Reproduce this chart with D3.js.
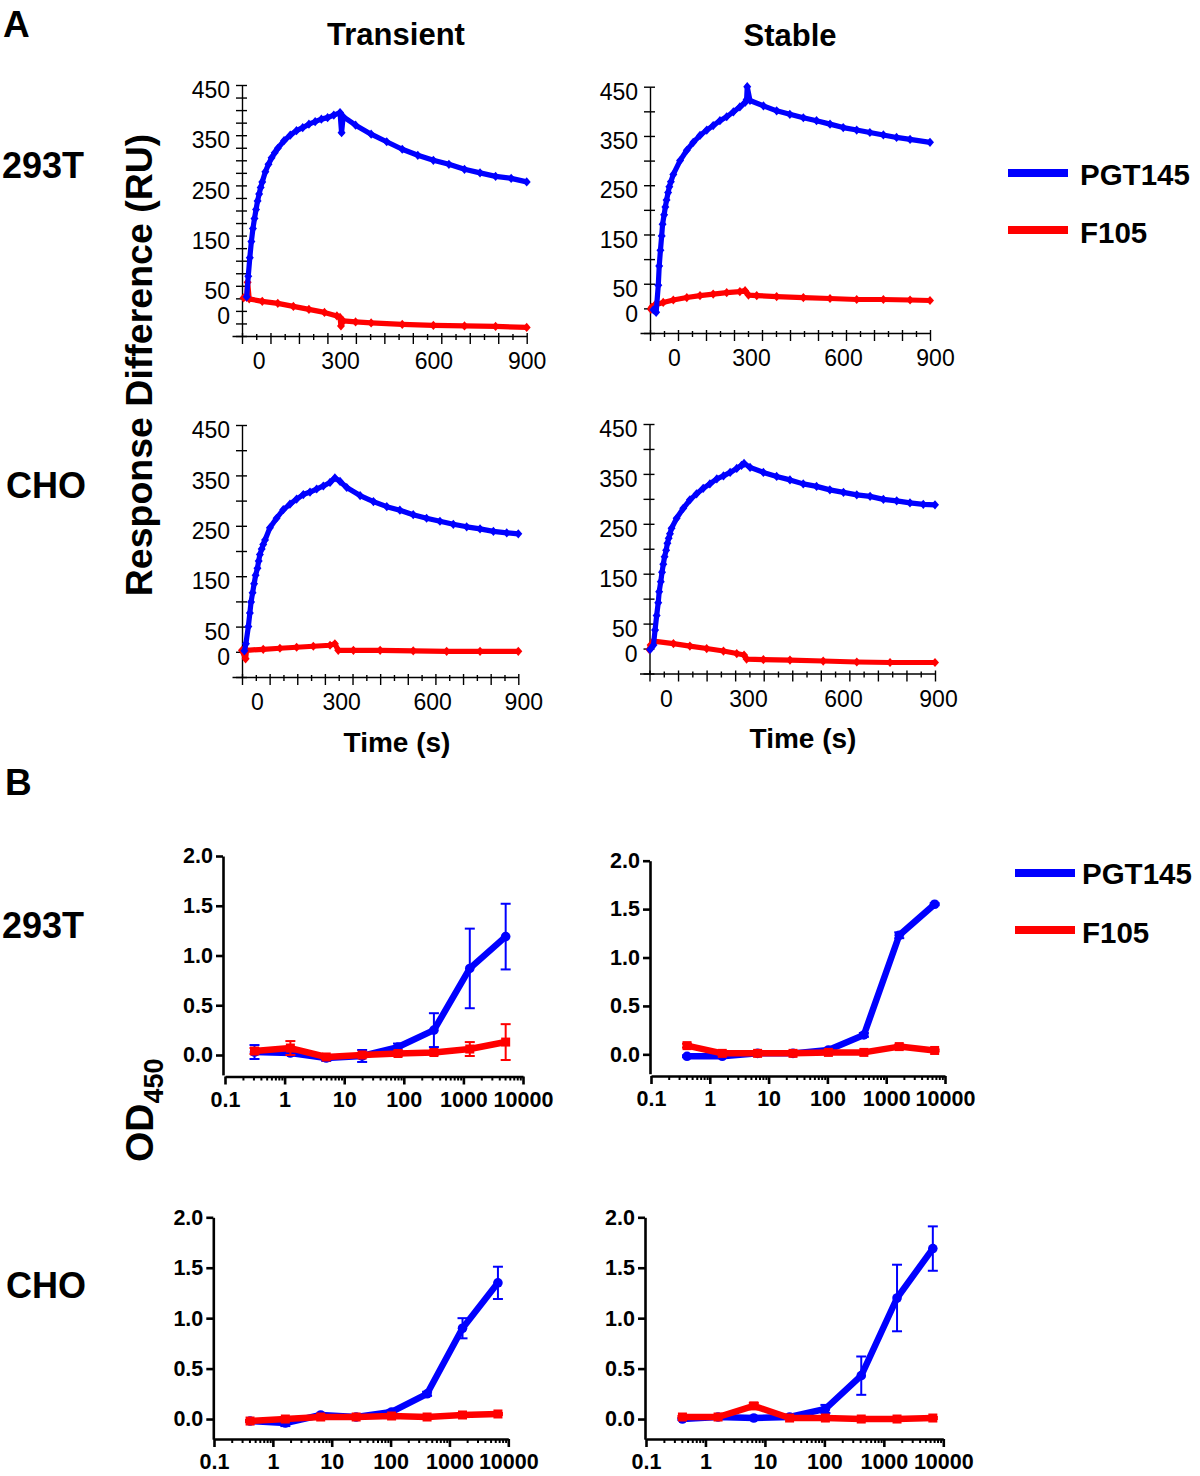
<!DOCTYPE html>
<html><head><meta charset="utf-8">
<script src="https://cdn.jsdelivr.net/npm/d3@7"></script>
<style>
body{margin:0;background:#fff}
svg{display:block}
</style>
</head><body>
<svg id="fig" width="1200" height="1476"></svg>
<script>
// ---------- Panel A: SPR sensorgrams (time in s, response in RU) ----------
const a1BlueT = [0,5,10,15,20,25,30,35,40,45,50,60,70,80,90,100,120,140,160,180,200,220,240,260,280,300,305,310,350,400,450,500,550,600,650,700,750,800,850,900];
const a1BlueV = [28,69,106,138,164,184,202,219,233,246,257,277,292,305,315,324,339,350,359,365,372,377,382,385,390,395,355,387,370,352,337,322,310,300,292,282,275,268,264,257];
const a1RedT = [-10,0,3,8,50,100,150,200,250,290,300,303,310,350,400,500,600,700,800,900];
const a1RedV = [26,27,57,24,19,15,9,3,-3,-10,-13,-30,-20,-22,-24,-27,-29,-30,-31,-33];

const a2BlueT = [-2,7,14,17,21,25,28,33,37,41,46,50,55,63,85,107,128,150,172,193,215,237,259,280,297,302,304,313,357,400,443,487,530,574,617,661,704,748,791,835,900];
const a2BlueV = [-3,-8,47,86,118,147,171,190,206,220,235,247,257,272,300,321,337,351,362,371,381,389,399,409,418,424,450,422,411,401,394,387,381,374,367,362,357,352,347,343,337];
const a2RedT = [-10,-8,3,30,63,107,150,193,237,280,297,308,335,400,487,574,661,748,835,900];
const a2RedV = [-2,2,7,12,17,22,26,29,32,34,36,27,26,24,22,20,18,18,17,16];

const a3BlueT = [-2,3,11,16,20,25,30,35,41,45,49,55,60,66,82,104,126,148,170,192,214,236,258,280,296,313,335,379,423,467,510,554,598,642,686,730,774,818,862,900];
const a3BlueV = [2,16,50,77,99,117,135,152,166,180,193,204,213,222,246,265,282,293,303,312,317,323,329,336,345,338,326,310,298,288,281,272,265,259,253,248,244,239,236,234];
const a3RedT = [-10,2,5,60,115,170,225,280,296,307,357,445,554,664,774,900];
const a3RedV = [3,-14,3,5,7,9,11,13,16,3,3,3,2,1,1,1];

const a4BlueT = [0,11,16,21,26,29,34,38,42,46,51,55,59,63,68,84,105,126,147,168,189,211,232,253,274,289,297,316,358,400,442,484,526,568,611,653,695,737,779,821,863,900];
const a4BlueV = [-2,7,37,66,92,114,134,153,169,184,197,211,221,230,241,261,281,298,310,321,330,340,346,353,361,367,371,363,353,345,338,330,325,318,313,308,305,299,296,292,289,288];
const a4RedT = [-2,2,11,74,126,179,232,274,297,305,358,442,547,653,758,900];
const a4RedV = [-2,7,15,10,5,0,-5,-10,-13,-21,-22,-23,-25,-27,-28,-28];

const sprYTicks = [450,350,250,150,50,0];
const sprXTicks = [0,300,600,900];

// ---------- Panel B: ELISA (concentration, OD450) ----------
const concB1 = [0.3125,1.25,5,20,80,320,1280,5120];
const concB = [0.41,1.63,6.5,26,104,417,1667,6667];

const b1Blue = [0.03,0.02,-0.03,-0.01,0.08,0.25,0.87,1.19];
const b1BlueErr = [0.07,0.02,0.03,0.06,0.035,0.17,0.40,0.33];
const b1Red = [0.04,0.07,-0.02,0.00,0.015,0.025,0.06,0.13];
const b1RedErr = [0.03,0.07,0.02,0.02,0.02,0.02,0.07,0.18];

const b2Blue = [-0.02,-0.02,0.01,0.01,0.045,0.20,1.23,1.55];
const b2BlueErr = [0.01,0.01,0.01,0.01,0.01,0.02,0.03,0.01];
const b2Red = [0.09,0.01,0.01,0.01,0.02,0.02,0.08,0.04];
const b2RedErr = [0.02,0.01,0.01,0.01,0.01,0.01,0.02,0.01];

const b3Blue = [-0.02,-0.04,0.04,0.02,0.07,0.25,0.90,1.35];
const b3BlueErr = [0.01,0.03,0.01,0.01,0.02,0.02,0.10,0.16];
const b3Red = [-0.02,0.00,0.02,0.02,0.03,0.02,0.04,0.05];
const b3RedErr = [0.01,0.01,0.01,0.01,0.01,0.01,0.01,0.01];

const b4Blue = [0.00,0.02,0.01,0.02,0.10,0.43,1.20,1.69];
const b4BlueErr = [0.01,0.01,0.01,0.01,0.04,0.19,0.33,0.22];
const b4Red = [0.02,0.02,0.13,0.01,0.01,0.00,0.00,0.01];
const b4RedErr = [0.01,0.01,0.03,0.01,0.01,0.01,0.01,0.01];

const odYTicks = [0,0.5,1,1.5,2];
const concTicks = [0.1,1,10,100,1000,10000];

const seriesNames = ['PGT145','F105'];
const rowLabels = ['293T','CHO'];
const colLabels = ['Transient','Stable'];

// ---------- drawing ----------
const FONT = '"Liberation Sans", Arial, Helvetica, sans-serif';
const BLUE = '#0000ff', RED = '#ff0000';
const svg = d3.select('#fig');
svg.append('rect').attr('width',1200).attr('height',1476).attr('fill','#fff');

function text(x, y, s, size, weight, anchor) {
  return svg.append('text').attr('x', x).attr('y', y).text(s)
    .attr('font-family', FONT).attr('font-size', size)
    .attr('font-weight', weight || 'normal').attr('text-anchor', anchor || 'start').attr('fill', '#000');
}

const DIAMOND = 'M0,-4.6L4,0L0,4.6L-4,0Z';

function drawSPR(c, series) {
  const x = d3.scaleLinear().domain([0, 900]).range([c.x0, c.x900]);
  const y = d3.scaleLinear().domain([-50, 450]).range([c.yBottom, c.yTop]);
  const g = svg.append('g');

  // y axis with crossing ticks
  const ya = d3.axisLeft(y).tickValues(d3.range(-50, 451, c.minor)).tickFormat('')
    .tickSizeInner(6).tickSizeOuter(0);
  const yg = g.append('g').attr('transform', `translate(${c.yAxisX},0)`).call(ya);
  yg.selectAll('.tick line').attr('x1', 5);
  yg.selectAll('line, path').attr('stroke', '#000').attr('stroke-width', 1.4);

  const yl = d3.axisLeft(y).tickValues(sprYTicks).tickSize(0).tickPadding(12);
  const ylg = g.append('g').attr('transform', `translate(${c.yAxisX},0)`).call(yl);
  ylg.select('.domain').remove();
  ylg.selectAll('text').attr('font-family', FONT).attr('font-size', 23).attr('dy', '0.55em').attr('fill', '#000');

  // x axis (starts slightly left of y axis)
  const xs = x.invert(c.yAxisX - 10);
  const xFull = d3.scaleLinear().domain([xs, 900]).range([c.yAxisX - 10, c.x900]);
  const t0 = x.invert(c.yAxisX);
  const step = (900 - t0) / 20;
  const tv = d3.range(21).map(i => t0 + i * step);
  const xa = d3.axisBottom(xFull).tickValues(tv).tickFormat('').tickSizeInner(8).tickSizeOuter(0);
  const xg = g.append('g').attr('transform', `translate(0,${c.yBottom})`).call(xa);
  xg.selectAll('.tick line').attr('y1', (d, i) => i % 2 ? -2 : -3).attr('y2', (d, i) => i % 2 ? 4 : 8);
  xg.selectAll('line, path').attr('stroke', '#000').attr('stroke-width', 1.4);

  const xl = d3.axisBottom(x).tickValues(sprXTicks).tickSize(0);
  const xlg = g.append('g').attr('transform', `translate(0,${c.yBottom})`).call(xl);
  xlg.select('.domain').remove();
  xlg.selectAll('text').attr('font-family', FONT).attr('font-size', 23).attr('fill', '#000')
    .attr('y', 33).attr('dy', 0).attr('dx', d => d === 0 ? c.zeroNudge : c.nudge);

  const line = d3.line().x(d => x(d[0])).y(d => y(d[1]));
  series.forEach(s => {
    const pts = s.t.map((t, i) => [t, s.v[i]]);
    g.append('path').datum(pts).attr('d', line).attr('fill', 'none')
      .attr('stroke', s.color).attr('stroke-width', 5.2).attr('stroke-linejoin', 'round');
    g.selectAll(null).data(pts).enter().append('path').attr('d', DIAMOND)
      .attr('transform', d => `translate(${x(d[0])},${y(d[1])})`).attr('fill', s.color);
  });
}

drawSPR({yAxisX: 242, yTop: 85, yBottom: 336, x0: 246.7, x900: 526.7, minor: 25, zeroNudge: 12, nudge: 0},
  [{t: a1RedT, v: a1RedV, color: RED}, {t: a1BlueT, v: a1BlueV, color: BLUE}]);
drawSPR({yAxisX: 650, yTop: 86.7, yBottom: 333, x0: 654, x900: 930, minor: 50, zeroNudge: 20, nudge: 5},
  [{t: a2RedT, v: a2RedV, color: RED}, {t: a2BlueT, v: a2BlueV, color: BLUE}]);
drawSPR({yAxisX: 242, yTop: 425, yBottom: 677, x0: 245, x900: 518.3, minor: 50, zeroNudge: 12, nudge: 5},
  [{t: a3RedT, v: a3RedV, color: RED}, {t: a3BlueT, v: a3BlueV, color: BLUE}]);
drawSPR({yAxisX: 649.5, yTop: 424, yBottom: 673.5, x0: 650, x900: 935, minor: 50, zeroNudge: 16, nudge: 3},
  [{t: a4RedT, v: a4RedV, color: RED}, {t: a4BlueT, v: a4BlueV, color: BLUE}]);

function drawELISA(c, conc, series) {
  const x = d3.scaleLog().domain([0.1, 10000]).range([c.xLeft, c.xRight]);
  const y = d3.scaleLinear().domain([-0.2, 2]).range([c.yBottom, c.yTop]);
  const g = svg.append('g');

  const ya = d3.axisLeft(y).tickValues(odYTicks).tickFormat(d3.format('.1f'))
    .tickSizeInner(7).tickSizeOuter(0).tickPadding(3);
  const yg = g.append('g').attr('transform', `translate(${c.yAxisX},0)`).call(ya);
  yg.selectAll('line, path').attr('stroke', '#000').attr('stroke-width', 2.6);
  yg.selectAll('text').attr('font-family', FONT).attr('font-size', 21.5).attr('font-weight', 'bold').attr('fill', '#000');

  const minor = x.ticks().filter(v => Math.abs(Math.log10(v) - Math.round(Math.log10(v))) > 1e-6);
  const xm = d3.axisBottom(x).tickValues(minor).tickFormat('').tickSizeInner(4).tickSizeOuter(0);
  const xmg = g.append('g').attr('transform', `translate(0,${c.xAxisY})`).call(xm);
  xmg.select('.domain').remove();
  xmg.selectAll('line').attr('stroke', '#000').attr('stroke-width', 2);

  const xa = d3.axisBottom(x).tickValues(concTicks).tickFormat(d => d < 1 ? '0.1' : d3.format('d')(d))
    .tickSizeInner(8).tickSizeOuter(0);
  const xg = g.append('g').attr('transform', `translate(0,${c.xAxisY})`).call(xa);
  xg.selectAll('line, path').attr('stroke', '#000').attr('stroke-width', 2.6);
  xg.selectAll('text').attr('font-family', FONT).attr('font-size', 21.5).attr('font-weight', 'bold')
    .attr('fill', '#000').attr('y', 30).attr('dy', 0);

  const line = d3.line().x(d => x(d.c)).y(d => y(d.v));
  series.forEach(s => {
    const pts = conc.map((cc, i) => ({c: cc, v: s.v[i], e: s.e[i]}));
    const eg = g.append('g').attr('stroke', s.color).attr('stroke-width', 2);
    pts.forEach(p => {
      const px = x(p.c), y1 = y(p.v - p.e), y2 = y(p.v + p.e);
      eg.append('line').attr('x1', px).attr('x2', px).attr('y1', y1).attr('y2', y2);
      eg.append('line').attr('x1', px - 5).attr('x2', px + 5).attr('y1', y1).attr('y2', y1);
      eg.append('line').attr('x1', px - 5).attr('x2', px + 5).attr('y1', y2).attr('y2', y2);
    });
    g.append('path').datum(pts).attr('d', line).attr('fill', 'none').attr('stroke', s.color)
      .attr('stroke-width', 6.5).attr('stroke-linejoin', 'round').attr('stroke-linecap', 'round');
    if (s.shape === 'circle') {
      g.selectAll(null).data(pts).enter().append('circle')
        .attr('cx', d => x(d.c)).attr('cy', d => y(d.v)).attr('r', 4.8).attr('fill', s.color);
    } else {
      g.selectAll(null).data(pts).enter().append('rect')
        .attr('x', d => x(d.c) - 4.5).attr('y', d => y(d.v) - 4.5).attr('width', 9).attr('height', 9).attr('fill', s.color);
    }
  });
}

drawELISA({yAxisX: 223, xLeft: 225, xRight: 523, yTop: 856, yBottom: 1074.9, xAxisY: 1076.5}, concB1,
  [{v: b1Blue, e: b1BlueErr, color: BLUE, shape: 'circle'}, {v: b1Red, e: b1RedErr, color: RED, shape: 'square'}]);
drawELISA({yAxisX: 650, xLeft: 651, xRight: 945, yTop: 860.7, yBottom: 1073.7, xAxisY: 1076}, concB,
  [{v: b2Blue, e: b2BlueErr, color: BLUE, shape: 'circle'}, {v: b2Red, e: b2RedErr, color: RED, shape: 'square'}]);
drawELISA({yAxisX: 213.3, xLeft: 214, xRight: 508.3, yTop: 1217.3, yBottom: 1439.2, xAxisY: 1439}, concB,
  [{v: b3Blue, e: b3BlueErr, color: BLUE, shape: 'circle'}, {v: b3Red, e: b3RedErr, color: RED, shape: 'square'}]);
drawELISA({yAxisX: 645, xLeft: 646, xRight: 943.3, yTop: 1217.3, yBottom: 1439.2, xAxisY: 1439}, concB,
  [{v: b4Blue, e: b4BlueErr, color: BLUE, shape: 'circle'}, {v: b4Red, e: b4RedErr, color: RED, shape: 'square'}]);

// ---------- labels ----------
text(3, 37, 'A', 37, 'bold');
text(5, 795, 'B', 37, 'bold');
text(396, 45, colLabels[0], 31, 'bold', 'middle');
text(790, 46, colLabels[1], 31, 'bold', 'middle');
text(2, 178, rowLabels[0], 36, 'bold');
text(6, 498, rowLabels[1], 36, 'bold');
text(2, 938, rowLabels[0], 36, 'bold');
text(6, 1298, rowLabels[1], 36, 'bold');
text(397, 752, 'Time (s)', 28, 'bold', 'middle');
text(803, 748, 'Time (s)', 28, 'bold', 'middle');

svg.append('text').attr('transform', 'translate(152,365) rotate(-90)').attr('text-anchor', 'middle')
  .attr('font-family', FONT).attr('font-size', 37.5).attr('font-weight', 'bold').text('Response Difference (RU)');

const od = svg.append('text').attr('transform', 'translate(153,1162) rotate(-90)')
  .attr('font-family', FONT).attr('font-weight', 'bold');
od.append('tspan').attr('font-size', 39).text('OD');
od.append('tspan').attr('font-size', 27).attr('dy', 10).text('450');

// legends
function legend(x1, x2, tx, ys, ts) {
  seriesNames.forEach((n, i) => {
    svg.append('line').attr('x1', x1).attr('x2', x2).attr('y1', ys[i]).attr('y2', ys[i])
      .attr('stroke', i === 0 ? BLUE : RED).attr('stroke-width', 8);
    text(tx, ts[i], n, 29.5, 'bold');
  });
}
legend(1008, 1068, 1080, [173, 230], [185, 243]);
legend(1015, 1075, 1082, [873, 930], [884, 943]);
</script>
</body></html>
